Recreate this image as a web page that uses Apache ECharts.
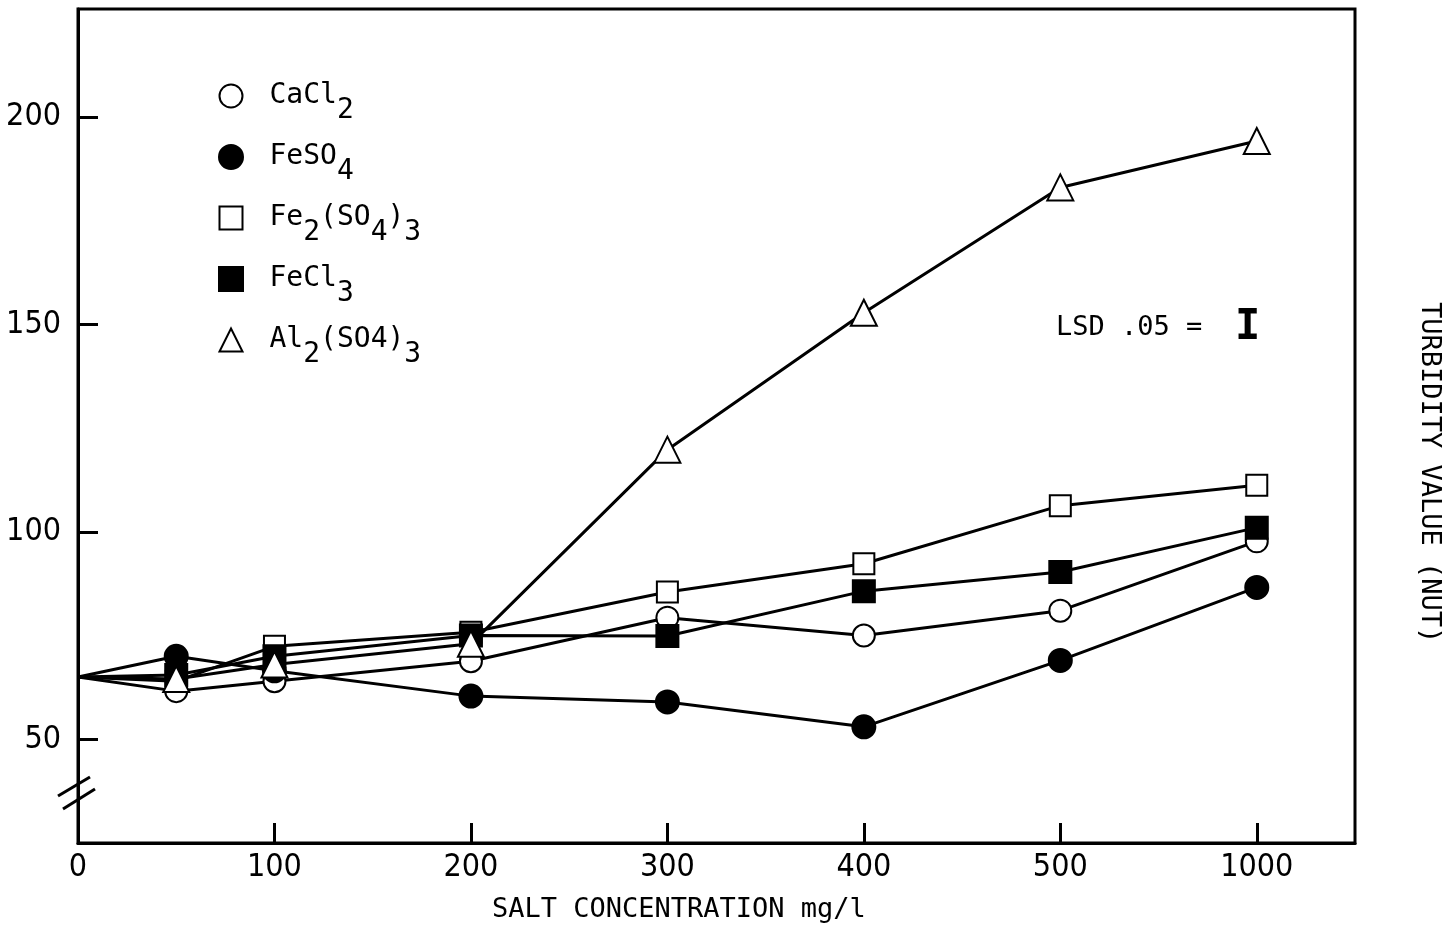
<!DOCTYPE html>
<html>
<head>
<meta charset="utf-8">
<script src="https://cdn.jsdelivr.net/npm/echarts@6/dist/echarts.min.js"></script>
<style>
  html, body { margin: 0; padding: 0; background: #fff; }
  #main { width: 1443px; height: 933px; }
</style>
</head>
<body>
<div id="main"></div>
<script>
// salt concentration, placed on an evenly spaced scale (1000 sits where 600 would be)
var xPos = [0, 50, 100, 200, 300, 400, 500, 600];
var xTickValues = [0, 100, 200, 300, 400, 500, 600];
var xTickLabels = ['0', '100', '200', '300', '400', '500', '1000'];
var yTickValues = [50, 100, 150, 200];

// turbidity (NUT)
var cacl2   = [65, 61.6, 64.0, 68.8, 79.3, 75.0, 81.0, 97.7];
var feso4   = [65, 70.0, 66.5, 60.4, 59.0, 53.0, 69.0, 86.6];
var fe2so43 = [65, 64.0, 72.4, 75.8, 85.5, 92.3, 106.3, 111.2];
var fecl3   = [65, 65.5, 70.0, 75.0, 74.9, 85.7, 90.3, 101.0];
var al2so43 = [65, 64.5, 68.0, 73.0, 119.8, 152.8, 183.0, 194.2];

var seriesNames = ['CaCl2', 'FeSO4', 'Fe2(SO4)3', 'FeCl3', 'Al2(SO4)3'];
var legendRich = {
    'CaCl2': '{g|}{n|CaCl}{s|2}',
    'FeSO4': '{g|}{n|FeSO}{s|4}',
    'Fe2(SO4)3': '{g|}{n|Fe}{s|2}{n|(SO}{s|4}{n|)}{s|3}',
    'FeCl3': '{g|}{n|FeCl}{s|3}',
    'Al2(SO4)3': '{g|}{n|Al}{s|2}{n|(SO4)}{s|3}'
};
var symbols = ['emptyCircle', 'circle', 'emptyRect', 'rect', 'emptyTriangle'];
var symbolSizes = [22, 22, 21, 21, 26];
var values = [cacl2, feso4, fe2so43, fecl3, al2so43];

var monoFont = "'DejaVu Sans Mono', 'Liberation Mono', monospace";
var narrowFont = "'Liberation Sans Narrow', 'DejaVu Sans Condensed', 'DejaVu Sans', sans-serif";

var myChart = echarts.init(document.getElementById('main'));

var series = seriesNames.map(function (name, i) {
    return {
        name: name,
        type: 'line',
        // no marker at the common origin point
        data: xPos.map(function (x, j) {
            return j === 0 ? { value: [x, values[i][j]], symbol: 'none' } : [x, values[i][j]];
        }),
        symbol: symbols[i],
        symbolSize: symbolSizes[i],
        showAllSymbol: true,
        lineStyle: { color: '#000', width: 3 },
        itemStyle: { color: '#000', borderColor: '#000', borderWidth: 3 },
        emphasis: { disabled: true },
        z: 2 + i
    };
});

var option = {
    backgroundColor: '#fff',
    animation: false,
    grid: {
        left: 78, right: 88, top: 9, bottom: 90,
        show: true, borderColor: '#000', borderWidth: 3, backgroundColor: 'transparent'
    },
    legend: {
        orient: 'vertical',
        left: 213,
        top: 77,
        itemGap: 18,
        itemWidth: 23,
        itemHeight: 23,
        selectedMode: false,
        data: seriesNames.map(function (n, i) { return { name: n, icon: symbols[i] }; }),
        formatter: function (name) { return legendRich[name]; },
        itemStyle: { borderWidth: 3 },
        textStyle: {
            color: '#000',
            rich: {
                g: { width: 22 },
                n: { fontFamily: monoFont, fontSize: 28, color: '#000' },
                s: { fontFamily: monoFont, fontSize: 28, color: '#000', padding: [30, 0, 0, 0] }
            }
        }
    },
    xAxis: {
        type: 'value',
        min: 0,
        max: 650,
        axisLine: { onZero: false, lineStyle: { color: '#000', width: 3 } },
        axisTick: {
            inside: true, length: 20, customValues: xTickValues.slice(1),
            lineStyle: { color: '#000', width: 3 }
        },
        axisLabel: {
            customValues: xTickValues,
            margin: 9,
            color: '#000',
            fontFamily: narrowFont,
            fontSize: 32,
            formatter: function (v) {
                var k = xTickValues.indexOf(v);
                return k < 0 ? '' : xTickLabels[k];
            }
        },
        splitLine: { show: false }
    },
    yAxis: {
        type: 'value',
        min: 25,
        max: 226,
        axisLine: { show: true, onZero: false, lineStyle: { color: '#000', width: 3 } },
        axisTick: {
            show: true, inside: true, length: 20, customValues: yTickValues,
            lineStyle: { color: '#000', width: 3 }
        },
        axisLabel: {
            customValues: yTickValues,
            margin: 17,
            color: '#000',
            fontFamily: narrowFont,
            fontSize: 32
        },
        splitLine: { show: false }
    },
    graphic: [
        {
            type: 'text', left: 492, top: 896,
            style: { text: 'SALT CONCENTRATION mg/l', font: '27px ' + monoFont, fill: '#000' }
        },
        {
            type: 'text', x: 1443, y: 302, rotation: -Math.PI / 2,
            style: { text: 'TURBIDITY VALUE (NUT)', font: '27px ' + monoFont, fill: '#000' }
        },
        {
            type: 'text', left: 1056, top: 314,
            style: { text: 'LSD .05 =', font: '27px ' + monoFont, fill: '#000' }
        },
        {
            type: 'text', left: 1235, top: 307,
            style: { text: 'I', font: 'bold 42px ' + monoFont, fill: '#000' }
        },
        {
            type: 'line', shape: { x1: 58, y1: 796, x2: 90, y2: 777 },
            style: { stroke: '#000', lineWidth: 3 }
        },
        {
            type: 'line', shape: { x1: 63, y1: 809, x2: 95, y2: 789 },
            style: { stroke: '#000', lineWidth: 3 }
        }
    ],
    series: series
};
myChart.setOption(option);
</script>
</body>
</html>
